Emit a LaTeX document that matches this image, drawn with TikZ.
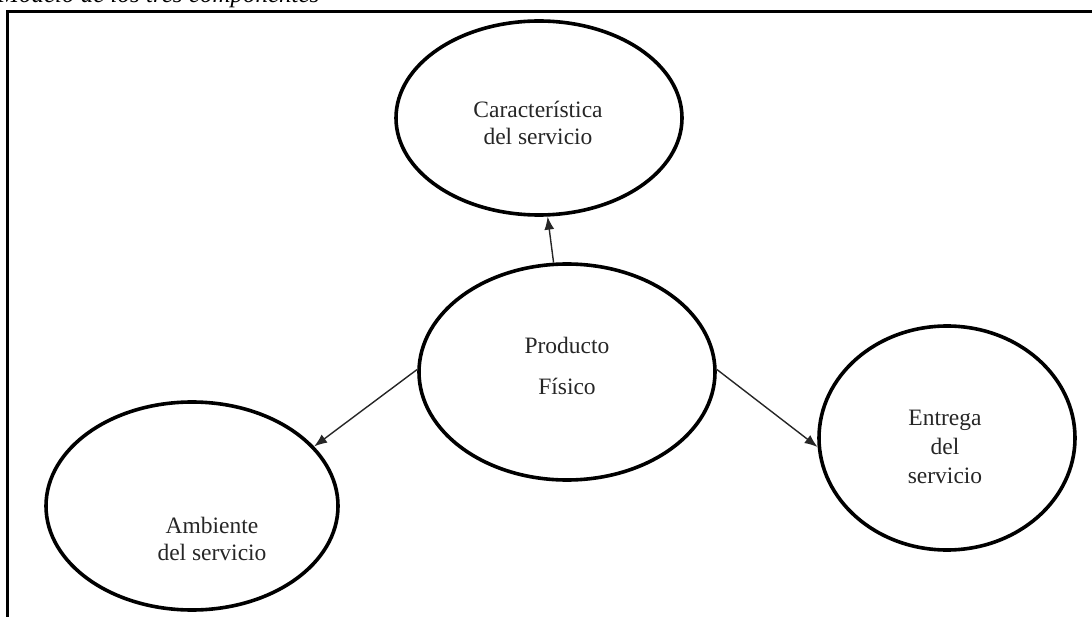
\documentclass[tikz,border=0pt]{standalone}
\usepackage{fontspec}
\setmainfont{Liberation Serif}
\usetikzlibrary{shapes.geometric,arrows.meta}

\tikzset{
  comp/.style={ellipse, draw=black, line width=3.6pt, inner sep=0pt},
  ctext/.style={align=center, font=\fontsize{23.5}{27}\selectfont, text=black!85},
  link/.style={line width=1.4pt, draw=black!85, -{Latex[length=13pt,width=10pt]}},
  frameline/.style={line width=3pt, black}
}

\begin{document}
\begin{tikzpicture}[x=1pt,y=1pt]
  \useasboundingbox (0,0) rectangle (1092,-617);
  \clip (0,0) rectangle (1092,-617);

  % caption, cut by the upper edge of the page
  \node[anchor=base west, inner sep=0pt, font=\fontsize{25}{30}\selectfont\itshape]
    (caption) at (-2,-3) {Modelo de los tres componentes};

  % open frame: top and left sides
  \coordinate (fTL) at (7,-12);
  \coordinate (fTR) at (1100,-12);
  \coordinate (fBL) at (7,-625);
  \draw[frameline] (fTR) -- (fTL) -- (fBL);

  % the four components
  \node[comp, minimum width=286pt, minimum height=194pt] (car) at (539,-118) {};
  \node[comp, minimum width=296pt, minimum height=216pt] (pf)  at (567,-372) {};
  \node[comp, minimum width=292pt, minimum height=208pt] (amb) at (192,-506) {};
  \node[comp, minimum width=256pt, minimum height=224pt] (ent) at (947,-438) {};

  % labels
  \node[ctext] (carT) at (538,-123) {Característica\\del servicio};
  \node[ctext, font=\fontsize{23.5}{41}\selectfont] (pfT) at (567,-366) {Producto\\Físico};
  \node[ctext] (ambT) at (212,-539) {Ambiente\\del servicio};
  \node[ctext, font=\fontsize{23.5}{29}\selectfont] (entT) at (945,-447) {Entrega\\del\\servicio};

  % connectors from the physical product
  \draw[link] (pf.97)  -- (car.275);
  \draw[link] (pf.179) -- (amb.26);
  \draw[link] (pf.1)   -- (ent.184);
\end{tikzpicture}
\end{document}
